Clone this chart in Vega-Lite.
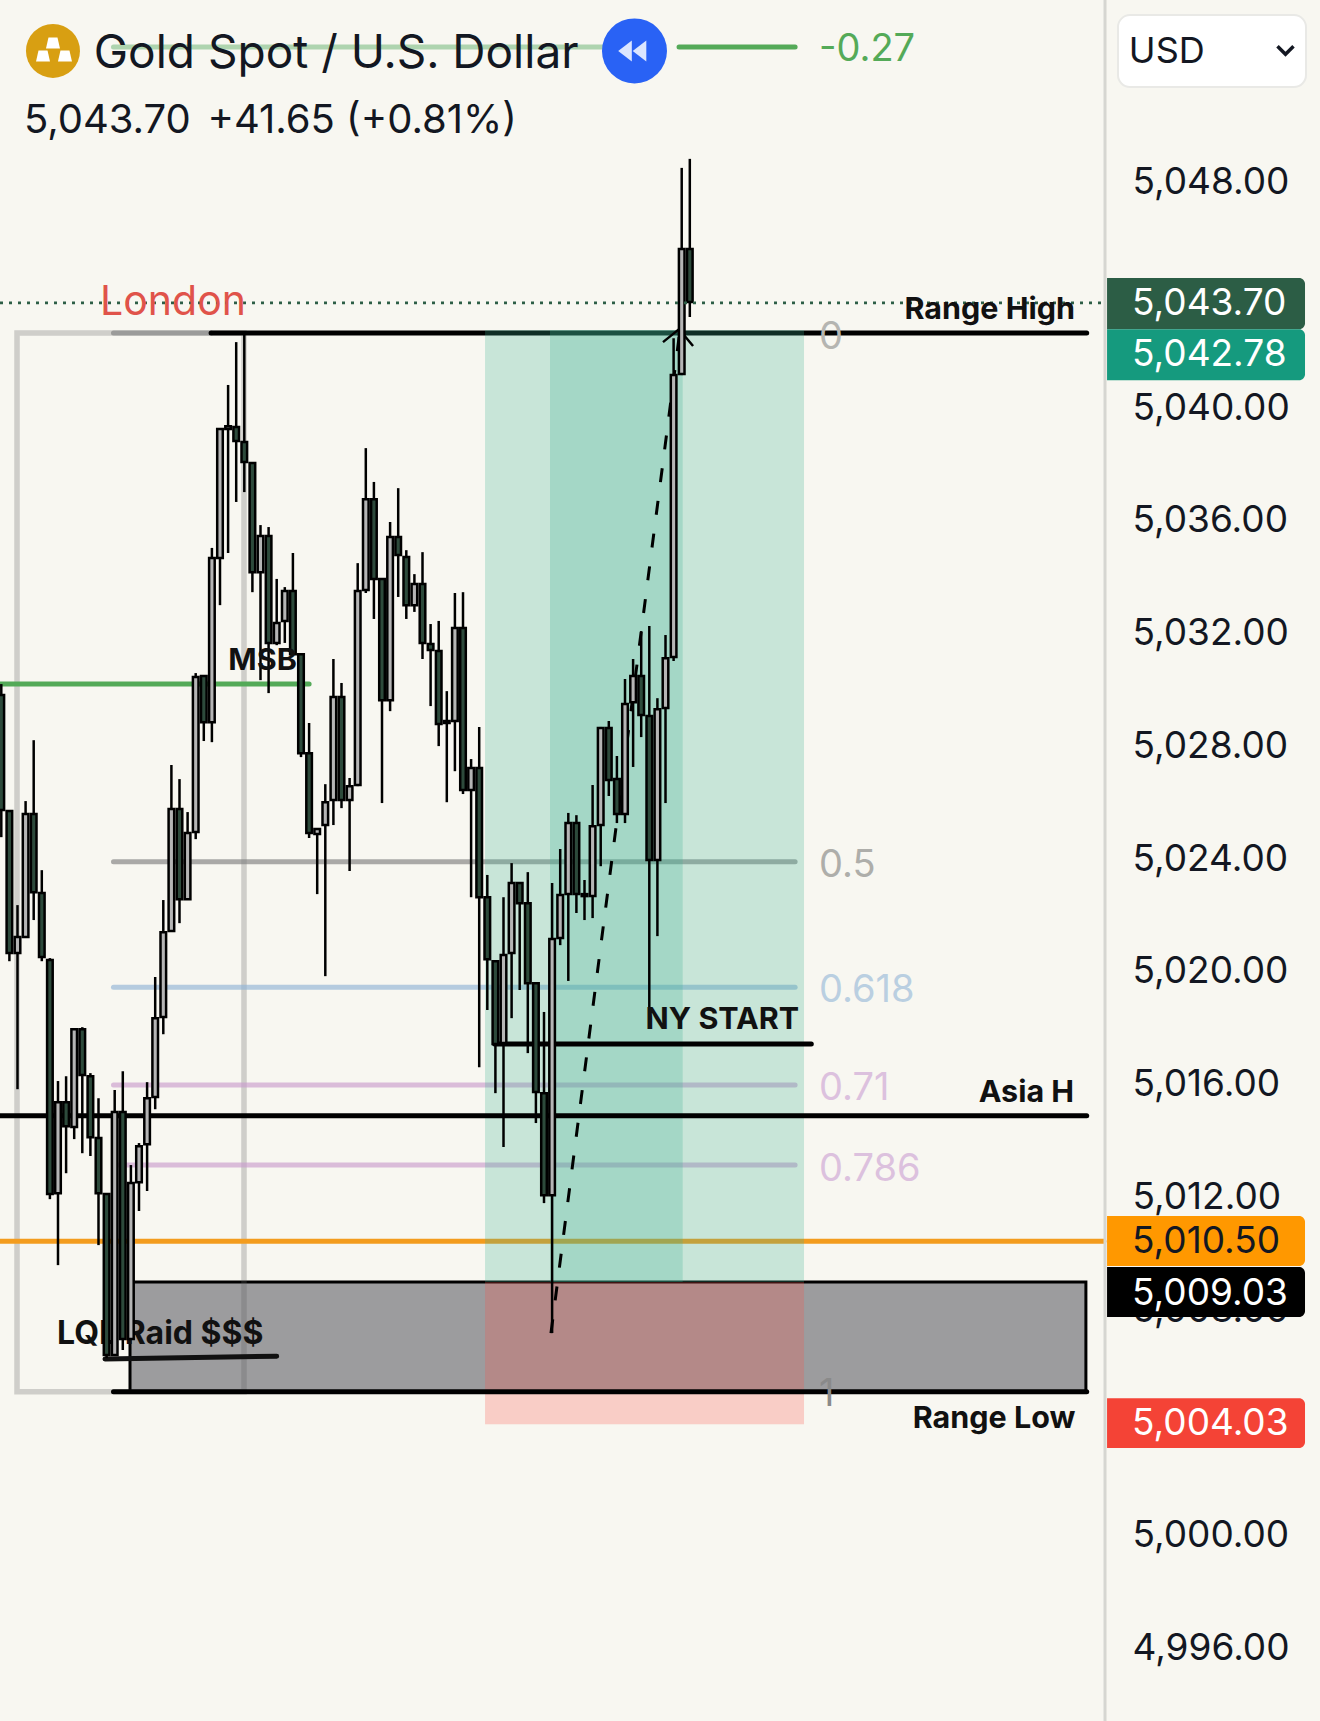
{
"$schema":"https://vega.github.io/schema/vega-lite/v6.json",
"width":1320,"height":1721,"padding":0,"autosize":{"type":"none"},
"background":"#f8f7f1",
"config":{"view":{"stroke":null},"text":{"font":"Inter"},"axis":{"labelFont":"Inter"}},
"resolve":{"scale":{"color":"independent"}},
"datasets":{
"candles":[
{"bar":0,"high":5030.12,"open":5029.73,"close":5025.65,"low":5024.69},
{"bar":1,"high":5025.62,"open":5025.62,"close":5020.58,"low":5020.29},
{"bar":2,"high":5022.28,"open":5020.58,"close":5021.15,"low":5015.75},
{"bar":3,"high":5025.97,"open":5021.15,"close":5025.51,"low":5021.12},
{"bar":4,"high":5028.13,"open":5025.51,"close":5022.74,"low":5021.75},
{"bar":5,"high":5023.52,"open":5022.71,"close":5020.44,"low":5020.29},
{"bar":6,"high":5020.40,"open":5020.33,"close":5012.03,"low":5011.85},
{"bar":7,"high":5016.04,"open":5012.06,"close":5015.29,"low":5009.51},
{"bar":8,"high":5016.21,"open":5015.29,"close":5014.44,"low":5012.77},
{"bar":9,"high":5017.92,"open":5014.41,"close":5017.88,"low":5013.98},
{"bar":10,"high":5017.95,"open":5017.88,"close":5016.25,"low":5013.48},
{"bar":11,"high":5016.32,"open":5016.21,"close":5014.05,"low":5013.38},
{"bar":12,"high":5015.43,"open":5014.02,"close":5012.06,"low":5010.22},
{"bar":13,"high":5012.03,"open":5012.03,"close":5006.32,"low":5006.21},
{"bar":14,"high":5015.72,"open":5006.32,"close":5014.94,"low":5006.32},
{"bar":15,"high":5016.39,"open":5014.94,"close":5006.89,"low":5006.50},
{"bar":16,"high":5013.06,"open":5006.89,"close":5012.42,"low":5006.89},
{"bar":17,"high":5013.84,"open":5012.45,"close":5013.73,"low":5011.43},
{"bar":18,"high":5016.00,"open":5013.80,"close":5015.43,"low":5012.14},
{"bar":19,"high":5019.73,"open":5015.47,"close":5018.27,"low":5015.04},
{"bar":20,"high":5022.46,"open":5018.31,"close":5021.32,"low":5017.70},
{"bar":21,"high":5027.25,"open":5021.36,"close":5025.69,"low":5021.36},
{"bar":22,"high":5026.75,"open":5025.69,"close":5022.49,"low":5021.64},
{"bar":23,"high":5025.58,"open":5022.49,"close":5024.84,"low":5022.49},
{"bar":24,"high":5030.51,"open":5024.87,"close":5030.37,"low":5024.62},
{"bar":25,"high":5030.44,"open":5030.41,"close":5028.77,"low":5028.10},
{"bar":26,"high":5034.95,"open":5028.77,"close":5034.59,"low":5028.06},
{"bar":27,"high":5039.20,"open":5034.59,"close":5039.17,"low":5032.92},
{"bar":28,"high":5040.73,"open":5039.17,"close":5039.27,"low":5034.77},
{"bar":29,"high":5042.25,"open":5039.24,"close":5038.74,"low":5036.58},
{"bar":30,"high":5042.57,"open":5038.71,"close":5038.00,"low":5036.93},
{"bar":31,"high":5037.96,"open":5037.96,"close":5034.09,"low":5033.38},
{"bar":32,"high":5035.76,"open":5034.09,"close":5035.37,"low":5030.26},
{"bar":33,"high":5035.69,"open":5035.37,"close":5031.58,"low":5029.80},
{"bar":34,"high":5033.85,"open":5031.58,"close":5032.29,"low":5031.50},
{"bar":35,"high":5033.56,"open":5032.36,"close":5033.42,"low":5031.58},
{"bar":36,"high":5034.77,"open":5033.42,"close":5031.18,"low":5031.18},
{"bar":37,"high":5031.18,"open":5031.18,"close":5027.67,"low":5027.53},
{"bar":38,"high":5028.74,"open":5027.67,"close":5024.84,"low":5024.66},
{"bar":39,"high":5024.98,"open":5024.80,"close":5024.98,"low":5022.67},
{"bar":40,"high":5026.57,"open":5025.12,"close":5025.93,"low":5019.76},
{"bar":41,"high":5031.01,"open":5026.01,"close":5029.66,"low":5025.12},
{"bar":42,"high":5030.16,"open":5029.66,"close":5026.01,"low":5025.72},
{"bar":43,"high":5026.79,"open":5026.01,"close":5026.50,"low":5023.49},
{"bar":44,"high":5034.41,"open":5026.54,"close":5033.42,"low":5026.50},
{"bar":45,"high":5038.49,"open":5033.46,"close":5036.68,"low":5033.35},
{"bar":46,"high":5037.29,"open":5036.68,"close":5033.85,"low":5032.43},
{"bar":47,"high":5033.88,"open":5033.85,"close":5029.55,"low":5025.90},
{"bar":48,"high":5035.87,"open":5029.55,"close":5035.34,"low":5029.16},
{"bar":49,"high":5037.07,"open":5035.34,"close":5034.70,"low":5033.21},
{"bar":50,"high":5034.87,"open":5034.63,"close":5032.92,"low":5032.43},
{"bar":51,"high":5034.02,"open":5032.92,"close":5033.67,"low":5032.68},
{"bar":52,"high":5034.80,"open":5033.67,"close":5031.58,"low":5031.01},
{"bar":53,"high":5032.25,"open":5031.54,"close":5031.33,"low":5029.34},
{"bar":54,"high":5032.36,"open":5031.29,"close":5028.70,"low":5027.92},
{"bar":55,"high":5029.87,"open":5028.74,"close":5028.81,"low":5025.93},
{"bar":56,"high":5033.35,"open":5028.81,"close":5032.11,"low":5027.03},
{"bar":57,"high":5033.38,"open":5032.11,"close":5026.36,"low":5026.22},
{"bar":58,"high":5027.46,"open":5026.36,"close":5027.14,"low":5022.56},
{"bar":59,"high":5028.60,"open":5027.14,"close":5022.56,"low":5016.53},
{"bar":60,"high":5023.35,"open":5022.56,"close":5020.36,"low":5018.56},
{"bar":61,"high":5020.33,"open":5020.29,"close":5017.35,"low":5015.61},
{"bar":62,"high":5022.56,"open":5017.39,"close":5020.51,"low":5013.70},
{"bar":63,"high":5023.77,"open":5020.58,"close":5023.06,"low":5018.27},
{"bar":64,"high":5023.10,"open":5023.06,"close":5022.35,"low":5019.27},
{"bar":65,"high":5023.45,"open":5022.35,"close":5019.51,"low":5017.03},
{"bar":66,"high":5019.55,"open":5019.51,"close":5015.65,"low":5014.55},
{"bar":67,"high":5018.49,"open":5015.61,"close":5011.99,"low":5011.71},
{"bar":68,"high":5023.06,"open":5011.99,"close":5021.08,"low":5007.10},
{"bar":69,"high":5024.27,"open":5021.11,"close":5022.64,"low":5020.86},
{"bar":70,"high":5025.55,"open":5022.67,"close":5025.19,"low":5019.59},
{"bar":71,"high":5025.47,"open":5025.19,"close":5022.67,"low":5022.00},
{"bar":72,"high":5023.17,"open":5022.67,"close":5022.60,"low":5021.75},
{"bar":73,"high":5026.54,"open":5022.60,"close":5025.08,"low":5021.82},
{"bar":74,"high":5028.60,"open":5025.12,"close":5028.56,"low":5023.66},
{"bar":75,"high":5028.81,"open":5028.56,"close":5026.72,"low":5026.15},
{"bar":76,"high":5027.57,"open":5026.75,"close":5025.51,"low":5025.19},
{"bar":77,"high":5030.30,"open":5025.51,"close":5029.41,"low":5025.19},
{"bar":78,"high":5031.01,"open":5029.48,"close":5030.41,"low":5027.18},
{"bar":79,"high":5032.00,"open":5030.41,"close":5029.02,"low":5028.24},
{"bar":80,"high":5032.18,"open":5028.99,"close":5023.88,"low":5018.56},
{"bar":81,"high":5029.62,"open":5023.88,"close":5029.23,"low":5021.18},
{"bar":82,"high":5031.86,"open":5029.27,"close":5031.04,"low":5025.90},
{"bar":83,"high":5042.39,"open":5031.08,"close":5041.08,"low":5030.94},
{"bar":84,"high":5048.43,"open":5041.12,"close":5045.55,"low":5041.08},
{"bar":85,"high":5048.75,"open":5045.55,"close":5043.67,"low":5043.14}
],
"levelsFaded":[
{"name":"fib0","bar":13.85,"bar2":25.9,"price":5042.57},
{"name":"fib05","bar":13.85,"bar2":98.0,"price":5023.82},
{"name":"fib618","bar":13.85,"bar2":98.0,"price":5019.37},
{"name":"fib71","bar":13.85,"bar2":98.0,"price":5015.90},
{"name":"fib786","bar":13.85,"bar2":98.0,"price":5013.06}
],
"levelsSolid":[
{"name":"fibTopLight","bar":13.85,"bar2":74.2,"price":5052.72},
{"name":"fibTopDark","bar":83.67,"bar2":98.0,"price":5052.72},
{"name":"msb","bar":-0.16,"bar2":38.0,"price":5030.12},
{"name":"session","bar":-0.16,"bar2":136.13,"price":5010.36},
{"name":"rangeHigh","bar":25.9,"bar2":134.0,"price":5042.57}
],
"levelsOver":[
{"bar":-0.16,"bar2":134.0,"price":5014.81},
{"bar":13.85,"bar2":134.0,"price":5005.02},
{"bar":60.9,"bar2":100.0,"price":5017.35}
],
"tags":[
{"label":"5,043.70","bar":136.51,"bar2":160.95,"price":5044.52,"price2":5042.71},
{"label":"5,042.78","bar":136.51,"bar2":160.95,"price":5042.71,"price2":5040.90},
{"label":"5,010.50","bar":136.51,"bar2":160.95,"price":5011.25,"price2":5009.48},
{"label":"5,009.03","bar":136.51,"bar2":160.95,"price":5009.44,"price2":5007.67},
{"label":"5,004.03","bar":136.51,"bar2":160.95,"price":5004.79,"price2":5003.02}
],
"tagLabels":[
{"label":"5,043.70","bar":139.6,"price":5043.60},
{"label":"5,042.78","bar":139.6,"price":5041.79},
{"label":"5,010.50","bar":139.6,"price":5010.32},
{"label":"5,009.03","bar":139.6,"price":5008.50},
{"label":"5,004.03","bar":139.6,"price":5003.88}
]
},
"data":{"values":[{"bar":0,"price":5020}]},
"encoding":{
"x":{"field":"bar","type":"quantitative","scale":{"domain":[-0.16,162.8],"nice":false,"zero":false,"padding":0},"axis":null},
"y":{"field":"price","type":"quantitative","scale":{"domain":[4993.34,5054.385],"nice":false,"zero":false},
"axis":{"orient":"right","offset":-188,"title":null,"values":[4996,5000,5004,5008,5012,5016,5020,5024,5028,5032,5036,5040,5048],
"format":",.2f","labelFontSize":37,"labelColor":"#131722","labelPadding":0,"labelAlign":"left","labelBaseline":"middle","labelOffset":2.5,"labelOverlap":false,"labelFlush":false,"ticks":false,"domain":false,"grid":false}}
},
"layer":[
{"data":{"values":[{"bar":15.89,"bar2":133.9,"price":5008.91,"price2":5005.02}]},
"mark":{"type":"rect","fill":"#9c9c9e","stroke":"#000000","strokeWidth":3},
"encoding":{"x2":{"field":"bar2"},"y2":{"field":"price2"}}},
{"data":{"values":[{"bar":1.94,"bar2":29.96,"price":5042.57,"price2":5005.02}]},
"mark":{"type":"rect","fillOpacity":0,"stroke":"#606060","strokeOpacity":0.27,"strokeWidth":5.5},
"encoding":{"x2":{"field":"bar2"},"y2":{"field":"price2"}}},
{"data":{"name":"levelsFaded"},
"mark":{"type":"rule","strokeWidth":5,"strokeCap":"round","opacity":0.65},
"encoding":{"x2":{"field":"bar2"},
"color":{"field":"name","type":"nominal","legend":null,"scale":{"domain":["fib0","fib05","fib618","fib71","fib786"],"range":["#808080","#808080","#90b4d6","#ca9ccd","#ca9ccd"]}}}},
{"data":{"name":"levelsSolid"},
"mark":{"type":"rule","strokeWidth":5,"strokeCap":"round","opacity":1},
"encoding":{"x2":{"field":"bar2"},
"color":{"field":"name","type":"nominal","legend":null,"scale":{"domain":["fibTopLight","fibTopDark","msb","session","rangeHigh"],"range":["#aed4af","#54aa58","#54aa58","#f39c1e","#000000"]}}}},
{"data":{"values":[{"bar":59.72,"bar2":99.10,"price":5042.68,"price2":5008.91},{"bar":67.74,"bar2":84.12,"price":5042.68,"price2":5008.91}]},
"mark":{"type":"rect","color":"#3cb094","opacity":0.26},
"encoding":{"x2":{"field":"bar2"},"y2":{"field":"price2"}}},
{"data":{"values":[{"bar":59.72,"bar2":99.10,"price":5008.91,"price2":5003.87}]},
"mark":{"type":"rect","color":"#fc5048","opacity":0.25},
"encoding":{"x2":{"field":"bar2"},"y2":{"field":"price2"}}},
{"data":{"name":"levelsOver"},
"mark":{"type":"rule","color":"#000000","strokeWidth":5,"strokeCap":"round"},
"encoding":{"x2":{"field":"bar2"}}},
{"data":{"values":[{"bar":12.8,"price":5006.18},{"bar":34.0,"price":5006.28}]},
"mark":{"type":"line","color":"#111111","strokeWidth":5,"strokeCap":"round"}},
{"data":{"values":[{"bar":67.86,"price":5007.10},{"bar":83.79,"price":5042.68}]},
"mark":{"type":"line","color":"#000000","strokeWidth":3,"strokeDash":[14,19]}},
{"data":{"values":[{"bar":81.69,"price":5042.25},{"bar":83.67,"price":5042.71},{"bar":85.4,"price":5042.11}]},
"mark":{"type":"line","color":"#000000","strokeWidth":2.5}},
{"data":{"values":[{"label":"LQL Raid $$$","bar":6.88,"price":5007.07}]},
"mark":{"type":"text","align":"left","baseline":"middle","fontWeight":700,"fontSize":32,"color":"#111111"},
"encoding":{"text":{"field":"label"}}},
{"data":{"name":"candles"},
"mark":{"type":"rule","color":"#000000","strokeWidth":2.5},
"encoding":{"y":{"field":"high","type":"quantitative","scale":{"domain":[4993.34,5054.385],"nice":false,"zero":false},
"axis":{"orient":"right","offset":-188,"title":null,"values":[4996,5000,5004,5008,5012,5016,5020,5024,5028,5032,5036,5040,5048],
"format":",.2f","labelFontSize":37,"labelColor":"#131722","labelPadding":0,"labelAlign":"left","labelBaseline":"middle","labelOffset":2.5,"labelOverlap":false,"labelFlush":false,"ticks":false,"domain":false,"grid":false}},"y2":{"field":"low"}}},
{"data":{"name":"candles"},
"mark":{"type":"bar","width":5.6,"stroke":"#000000","strokeWidth":2.5},
"encoding":{"y":{"field":"open","type":"quantitative","scale":{"domain":[4993.34,5054.385],"nice":false,"zero":false},
"axis":{"orient":"right","offset":-188,"title":null,"values":[4996,5000,5004,5008,5012,5016,5020,5024,5028,5032,5036,5040,5048],
"format":",.2f","labelFontSize":37,"labelColor":"#131722","labelPadding":0,"labelAlign":"left","labelBaseline":"middle","labelOffset":2.5,"labelOverlap":false,"labelFlush":false,"ticks":false,"domain":false,"grid":false}},"y2":{"field":"close"},
"fill":{"condition":{"test":"datum.close>=datum.open","value":"#b5b5b5"},"value":"#2d4a3b"}}},
{"data":{"values":[{"bar":-0.16,"bar2":136.1,"price":5043.64}]},
"mark":{"type":"rule","color":"#2d5e46","strokeWidth":2.8,"strokeDash":[3,6]},
"encoding":{"x2":{"field":"bar2"}}},
{"data":{"values":[{"bar":136.26,"price":5054.385,"price2":4993.34}]},
"mark":{"type":"rule","color":"#d6d6d1","strokeWidth":3},
"encoding":{"y2":{"field":"price2"}}},
{"data":{"name":"tags"},
"mark":{"type":"rect","cornerRadiusTopRight":6,"cornerRadiusBottomRight":6},
"encoding":{"x2":{"field":"bar2"},"y2":{"field":"price2"},
"color":{"field":"label","type":"nominal","legend":null,"scale":{"domain":["5,043.70","5,042.78","5,010.50","5,009.03","5,004.03"],"range":["#2c5d45","#159a7e","#ff9800","#000000","#f44336"]}}}},
{"data":{"name":"tagLabels"},
"mark":{"type":"text","align":"left","baseline":"middle","fontSize":37},
"encoding":{"text":{"field":"label"},
"color":{"condition":{"test":"datum.label=='5,010.50'","value":"#131722"},"value":"#ffffff"}}},
{"data":{"values":[{"bar":137.86,"bar2":161.07,"price":5053.85,"price2":5051.30}]},
"mark":{"type":"rect","fill":"#ffffff","stroke":"#e9e9e6","strokeWidth":2,"cornerRadius":12},
"encoding":{"x2":{"field":"bar2"},"y2":{"field":"price2"}}},
{"data":{"values":[{"bar":158.54,"price":5052.6}]},
"mark":{"type":"point","filled":false,"shape":"M-1,-0.5 L0,0.5 L1,-0.5","size":256,"stroke":"#131722","strokeWidth":3.5,"opacity":1}},
{"data":{"values":[{"bar":6.38,"price":5052.58}]},
"mark":{"type":"point","filled":true,"shape":"circle","size":2916,"color":"#d89f12","opacity":1}},
{"data":{"values":[{"bar":6.38,"price":5052.86},{"bar":5.15,"price":5052.40},{"bar":7.86,"price":5052.40}]},
"mark":{"type":"point","filled":true,"shape":"M-0.7,0.55 L0.7,0.55 L0.45,-0.55 L-0.45,-0.55 Z","size":400,"color":"#ffffff","opacity":1}},
{"data":{"values":[{"bar":78.17,"price":5052.58}]},
"mark":{"type":"point","filled":true,"shape":"circle","size":4225,"color":"#2962f5","opacity":1}},
{"data":{"values":[{"bar":77.0,"price":5052.58},{"bar":78.79,"price":5052.58}]},
"mark":{"type":"point","filled":true,"shape":"M0.65,-1 L0.65,1 L-0.65,0 Z","size":441,"color":"#dbe6ff","opacity":1}},
{"data":{"values":[{"label":"Gold Spot / U.S. Dollar","bar":11.42,"price":5052.46}]},
"mark":{"type":"text","align":"left","baseline":"middle","fontSize":46,"color":"#131722"},
"encoding":{"text":{"field":"label"}}},
{"data":{"values":[{"label":"5,043.70","bar":2.8,"price":5050.10},{"label":"+41.65 (+0.81%)","bar":25.45,"price":5050.10}]},
"mark":{"type":"text","align":"left","baseline":"middle","fontSize":40,"color":"#131722"},
"encoding":{"text":{"field":"label"}}},
{"data":{"values":[{"label":"USD","bar":139.2,"price":5052.55}]},
"mark":{"type":"text","align":"left","baseline":"middle","fontSize":36,"color":"#131722"},
"encoding":{"text":{"field":"label"}}},
{"data":{"values":[{"label":"-0.27","bar":100.95,"price":5052.60},{"label":"0","bar":100.95,"price":5042.38},{"label":"0.5","bar":100.95,"price":5023.65},{"label":"0.618","bar":100.95,"price":5019.22},{"label":"0.71","bar":100.95,"price":5015.74},{"label":"0.786","bar":100.95,"price":5012.90},{"label":"1","bar":100.95,"price":5004.89}]},
"mark":{"type":"text","align":"left","baseline":"middle","fontSize":38},
"encoding":{"text":{"field":"label"},
"color":{"field":"label","type":"nominal","legend":null,"scale":{"domain":["-0.27","0","0.5","0.618","0.71","0.786","1"],"range":["#54aa58","#b5b5b1","#aeaeaa","#bacfe1","#dcc1de","#dcc1de","#8a8a8a"]}}}},
{"data":{"values":[{"label":"London","bar":12.19,"price":5043.62}]},
"mark":{"type":"text","align":"left","baseline":"middle","fontSize":41,"color":"#e0534a"},
"encoding":{"text":{"field":"label"}}},
{"data":{"values":[{"label":"Range High","bar":132.55,"price":5043.39},{"label":"Asia H","bar":132.45,"price":5015.62},{"label":"Range Low","bar":132.6,"price":5004.05},{"label":"NY START","bar":98.5,"price":5018.2},{"label":"MSB","bar":36.5,"price":5030.94}]},
"mark":{"type":"text","align":"right","baseline":"middle","fontWeight":700,"fontSize":30.5,"color":"#111111"},
"encoding":{"text":{"field":"label"}}}
]
}
